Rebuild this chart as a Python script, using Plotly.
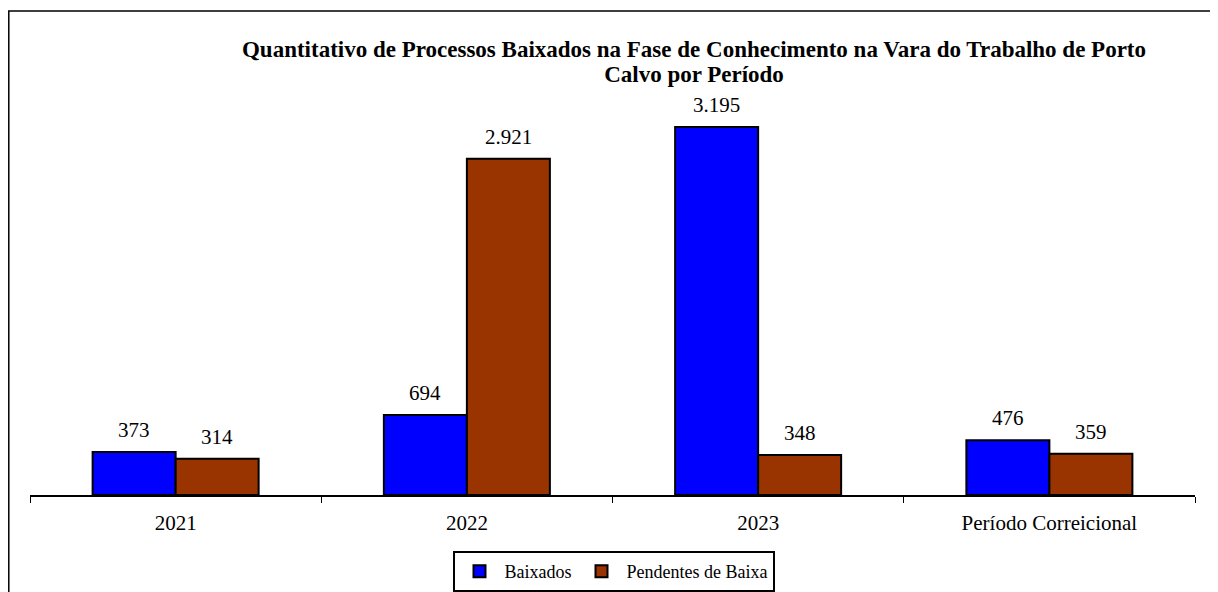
import plotly.graph_objects as go

categories = ["2021", "2022", "2023", "Período Correicional"]
baixados = [373, 694, 3195, 476]
pendentes = [314, 2921, 348, 359]

font_fam = "Liberation Serif, Times New Roman, serif"

W, H = 1210, 584          # page body adds an 8px margin
L, R, T, B = 22, 23, 84, 97
BARGAP = 0.43
YMAX = 3500

fig = go.Figure()
fig.add_trace(go.Bar(
    name="Baixados", x=categories, y=baixados,
    marker=dict(color="#0000FF", line=dict(color="black", width=2)),
))
fig.add_trace(go.Bar(
    name="Pendentes de Baixa", x=categories, y=pendentes,
    marker=dict(color="#993300", line=dict(color="black", width=2)),
))

def fmt(v):
    return f"{v:,}".replace(",", ".")

half = (1 - BARGAP) / 4
for i, (b, p) in enumerate(zip(baixados, pendentes)):
    for xo, v in ((i - half, b), (i + half, p)):
        fig.add_annotation(x=xo, y=v, xref="x", yref="y", text=fmt(v),
                           showarrow=False, yanchor="bottom", yshift=8,
                           font=dict(family=font_fam, size=21, color="black"))

title_txt = ("<b><span style='font-size:23px'>Quantitativo de Processos Baixados na Fase de "
             "Conhecimento na Vara do Trabalho de Porto</span><br>"
             "<span style='font-size:23px'>Calvo por Período</span></b>")

fig.update_layout(
    width=W, height=H,
    margin=dict(l=L, r=R, t=T, b=B),
    paper_bgcolor="white", plot_bgcolor="white",
    separators=",.",
    barmode="group", bargap=BARGAP, bargroupgap=0,
    font=dict(family=font_fam, color="black"),
    title=dict(
        text=title_txt,
        x=686 / W, xanchor="center", y=1 - 49 / H, yanchor="middle",
        font=dict(family=font_fam, size=19, color="black"),
    ),
    showlegend=True,
    legend=dict(
        orientation="h", x=(605.5 - L) / (W - L - R), xanchor="center",
        yref="container", y=1 - 543 / H, yanchor="top",
        bordercolor="black", borderwidth=2,
        font=dict(family=font_fam, size=18, color="black"),
        itemwidth=40, traceorder="normal",
    ),
    xaxis=dict(
        showline=True, linecolor="black", linewidth=1.5,
        ticks="outside", tickson="boundaries", ticklen=6, tickcolor="black",
        ticklabelstandoff=8,
        tickfont=dict(family=font_fam, size=21, color="black"),
        showgrid=False,
    ),
    yaxis=dict(range=[0, YMAX], visible=False, showgrid=False, zeroline=False),
)

PW = W - L - R
PH = H - T - B
fig.add_shape(type="rect", xref="paper", yref="paper",
              x0=(0.8 - L) / PW, x1=(1208.5 - L) / PW,
              y0=-0.3, y1=(PH + T - 3) / PH,
              line=dict(color="black", width=1.5), fillcolor="rgba(0,0,0,0)", layer="below")

fig.write_html("out.html")
